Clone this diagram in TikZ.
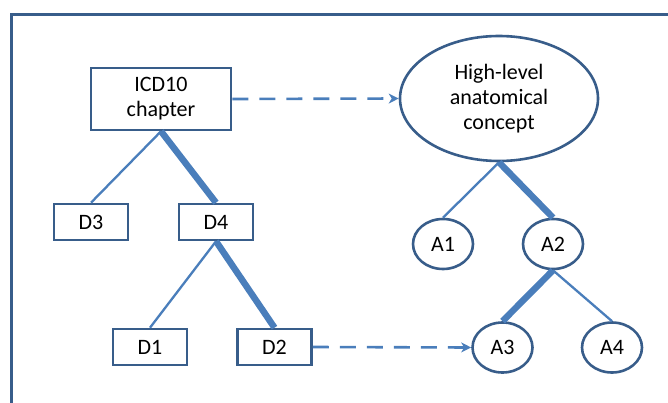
\documentclass[tikz,border=0pt]{standalone}
\usepackage{fontspec}
\setmainfont{Carlito}
\usetikzlibrary{shapes.geometric,arrows.meta}
\definecolor{edgeblue}{RGB}{74,126,187}
\definecolor{lineblue}{RGB}{56,93,138}
\tikzset{
  cbox/.style={draw=lineblue, line width=2.6pt, rectangle, minimum width=74pt, minimum height=36pt, inner sep=0pt},
  conc/.style={draw=lineblue, line width=2.6pt, ellipse, minimum width=60pt, minimum height=50pt, inner sep=0pt},
  thin/.style={draw=edgeblue, line width=2.3pt},
  thick/.style={draw=edgeblue, line width=6.5pt},
  map/.style={draw=edgeblue, line width=2.6pt, dash pattern=on 16pt off 11pt, -{Stealth[length=10pt,width=10pt,inset=3pt]}}
}
\begin{document}
\begin{tikzpicture}[x=1pt, y=-1pt, font=\fontsize{22}{25}\selectfont]
      \useasboundingbox (0, 0) rectangle (668, 403);
      \draw[lineblue, line width=3pt](11, 404) -- (11, 15) -- (669, 15);

      % ICD10 side
      \node[cbox, minimum width=140pt, minimum height=62pt, align=center] at(161, 99)(icd){ICD10\\chapter};
      \node[cbox] at(91, 222)(d3){D3};
      \node[cbox] at(216, 222)(d4){D4};
      \node[cbox] at(150, 347)(d1){D1};
      \node[cbox] at(274.5, 347)(d2){D2};

      % anatomy side
      \node[conc, minimum width=198pt, minimum height=125pt, align=center] at(499, 98.5)(hlac){High-level\\anatomical\\concept};
      \node[conc] at(443, 244)(a1){A1};
      \node[conc] at(553, 244)(a2){A2};
      \node[conc] at(502.5, 347.5)(a3){A3};
      \node[conc] at(612, 347.5)(a4){A4};

      \draw[thin](icd.south) to (d3.north);
      \draw[thick](icd.south) to (d4.north);
      \draw[thin](d4.south) to (d1.north);
      \draw[thick](d4.south) to (d2.north);
      \draw[thin](hlac.south) to (a1.north);
      \draw[thick](hlac.south) to (a2.north);
      \draw[thick](a2.south) to (a3.north);
      \draw[thin](a2.south) to (a4.north);

      \draw[map](icd.east) to (hlac.west);
      \draw[map](d2.east) to (a3.west);
      \end{tikzpicture}
\end{document}
